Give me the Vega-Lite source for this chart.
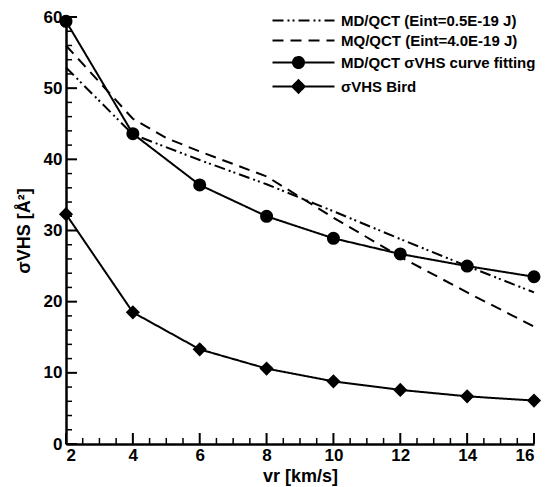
{
  "$schema": "https://vega.github.io/schema/vega-lite/v6.json",
  "autosize": "none",
  "width": 468,
  "height": 427,
  "padding": {"left": 66, "top": 17, "right": 12, "bottom": 43},
  "config": {"view": {"stroke": null}},
  "datasets": {
    "curves": [
      {"series": "MD/QCT (Eint=0.5E-19 J)", "vr": 2, "sigma": 52.9},
      {"series": "MD/QCT (Eint=0.5E-19 J)", "vr": 4, "sigma": 43.5},
      {"series": "MD/QCT (Eint=0.5E-19 J)", "vr": 6, "sigma": 39.9},
      {"series": "MD/QCT (Eint=0.5E-19 J)", "vr": 8, "sigma": 36.5},
      {"series": "MD/QCT (Eint=0.5E-19 J)", "vr": 10, "sigma": 32.7},
      {"series": "MD/QCT (Eint=0.5E-19 J)", "vr": 12, "sigma": 28.8},
      {"series": "MD/QCT (Eint=0.5E-19 J)", "vr": 14, "sigma": 25.0},
      {"series": "MD/QCT (Eint=0.5E-19 J)", "vr": 16, "sigma": 21.3},
      {"series": "MQ/QCT (Eint=4.0E-19 J)", "vr": 2, "sigma": 56.0},
      {"series": "MQ/QCT (Eint=4.0E-19 J)", "vr": 4, "sigma": 45.7},
      {"series": "MQ/QCT (Eint=4.0E-19 J)", "vr": 5, "sigma": 43.0},
      {"series": "MQ/QCT (Eint=4.0E-19 J)", "vr": 6, "sigma": 41.1},
      {"series": "MQ/QCT (Eint=4.0E-19 J)", "vr": 8, "sigma": 37.6},
      {"series": "MQ/QCT (Eint=4.0E-19 J)", "vr": 10, "sigma": 31.8},
      {"series": "MQ/QCT (Eint=4.0E-19 J)", "vr": 12, "sigma": 26.3},
      {"series": "MQ/QCT (Eint=4.0E-19 J)", "vr": 14, "sigma": 21.3},
      {"series": "MQ/QCT (Eint=4.0E-19 J)", "vr": 16, "sigma": 16.5},
      {"series": "MD/QCT σVHS curve fitting", "vr": 2, "sigma": 59.4},
      {"series": "MD/QCT σVHS curve fitting", "vr": 4, "sigma": 43.6},
      {"series": "MD/QCT σVHS curve fitting", "vr": 6, "sigma": 36.4},
      {"series": "MD/QCT σVHS curve fitting", "vr": 8, "sigma": 32.0},
      {"series": "MD/QCT σVHS curve fitting", "vr": 10, "sigma": 28.9},
      {"series": "MD/QCT σVHS curve fitting", "vr": 12, "sigma": 26.7},
      {"series": "MD/QCT σVHS curve fitting", "vr": 14, "sigma": 25.0},
      {"series": "MD/QCT σVHS curve fitting", "vr": 16, "sigma": 23.5},
      {"series": "σVHS Bird", "vr": 2, "sigma": 32.3},
      {"series": "σVHS Bird", "vr": 4, "sigma": 18.5},
      {"series": "σVHS Bird", "vr": 6, "sigma": 13.3},
      {"series": "σVHS Bird", "vr": 8, "sigma": 10.6},
      {"series": "σVHS Bird", "vr": 10, "sigma": 8.8},
      {"series": "σVHS Bird", "vr": 12, "sigma": 7.6},
      {"series": "σVHS Bird", "vr": 14, "sigma": 6.7},
      {"series": "σVHS Bird", "vr": 16, "sigma": 6.1}
    ],
    "xmajor": [{"v": 2}, {"v": 4}, {"v": 6}, {"v": 8}, {"v": 10}, {"v": 12}, {"v": 14}, {"v": 16}],
    "xminor": [{"v": 2.5}, {"v": 3}, {"v": 3.5}, {"v": 4.5}, {"v": 5}, {"v": 5.5}, {"v": 6.5}, {"v": 7}, {"v": 7.5}, {"v": 8.5}, {"v": 9}, {"v": 9.5}, {"v": 10.5}, {"v": 11}, {"v": 11.5}, {"v": 12.5}, {"v": 13}, {"v": 13.5}, {"v": 14.5}, {"v": 15}, {"v": 15.5}],
    "ymajor": [{"v": 0}, {"v": 10}, {"v": 20}, {"v": 30}, {"v": 40}, {"v": 50}, {"v": 60}],
    "yminor": [{"v": 2}, {"v": 4}, {"v": 6}, {"v": 8}, {"v": 12}, {"v": 14}, {"v": 16}, {"v": 18}, {"v": 22}, {"v": 24}, {"v": 26}, {"v": 28}, {"v": 32}, {"v": 34}, {"v": 36}, {"v": 38}, {"v": 42}, {"v": 44}, {"v": 46}, {"v": 48}, {"v": 52}, {"v": 54}, {"v": 56}, {"v": 58}]
  },
  "layer": [
    {
      "data": {"name": "curves"},
      "mark": {"type": "line", "color": "black", "strokeWidth": 2, "clip": false},
      "encoding": {
        "x": {"field": "vr", "type": "quantitative", "scale": {"domain": [2, 16], "nice": false, "zero": false},
          "axis": {"orient": "bottom", "values": [2, 4, 6, 8, 10, 12, 14, 16], "ticks": false, "grid": false, "domainColor": "black", "domainWidth": 2.5, "labelPadding": 3, "labelFont": "Liberation Sans", "labelFontWeight": "bold", "labelColor": "black", "labelFontSize": 17, "title": "vr [km/s]", "titleFont": "Liberation Sans", "titleFontWeight": "bold", "titleColor": "black", "titleFontSize": 18, "titlePadding": 4}},
        "y": {"field": "sigma", "type": "quantitative", "scale": {"domain": [0, 60], "nice": false},
          "axis": {"orient": "left", "values": [0, 10, 20, 30, 40, 50, 60], "ticks": false, "grid": false, "domainColor": "black", "domainWidth": 2.5, "labelPadding": 4, "labelFont": "Liberation Sans", "labelFontWeight": "bold", "labelColor": "black", "labelFontSize": 17, "title": "σVHS [Å²]", "titleFont": "Liberation Sans", "titleFontWeight": "bold", "titleColor": "black", "titleFontSize": 18, "titlePadding": 10}},
        "strokeDash": {"field": "series", "type": "nominal",
          "scale": {"domain": ["MD/QCT (Eint=0.5E-19 J)", "MQ/QCT (Eint=4.0E-19 J)", "MD/QCT σVHS curve fitting", "σVHS Bird"],
                    "range": [[11, 4, 2, 3, 2, 4], [11, 7], [1, 0], [1, 0]]},
          "legend": {
            "orient": "none", "legendX": 204, "legendY": -4, "title": null, "padding": 0,
            "symbolSize": 100, "symbolStrokeWidth": 2, "symbolStrokeColor": "black", "symbolFillColor": "black",
            "labelFontSize": 15, "labelFontWeight": "bold", "labelFont": "Liberation Sans", "labelColor": "black", "labelOffset": 56, "rowPadding": 4, "labelLimit": 300,
            "encode": {"symbols": {"update": {"shape": {"signal": "datum.value === 'MD/QCT σVHS curve fitting' ? 'M-1,0L11.4,0M3.1,0A1.1,1.1,0,1,0,5.3,0A1.1,1.1,0,1,0,3.1,0Z' : datum.value === 'σVHS Bird' ? 'M-1,0L11.4,0M4.2,-1.25L5.45,0L4.2,1.25L2.95,0Z' : 'M-1,0L11.4,0'"}, "fill": {"value": "black"}, "stroke": {"value": "black"}}}}
          }},
        "detail": {"field": "series"}
      }
    },
    {
      "data": {"name": "curves"},
      "transform": [{"filter": "datum.series === 'MD/QCT σVHS curve fitting' || datum.series === 'σVHS Bird'"}],
      "mark": {"type": "point", "filled": true, "color": "black", "opacity": 1, "clip": false},
      "encoding": {
        "x": {"field": "vr", "type": "quantitative"},
        "y": {"field": "sigma", "type": "quantitative"},
        "shape": {"field": "series", "type": "nominal", "scale": {"domain": ["MD/QCT σVHS curve fitting", "σVHS Bird"], "range": ["circle", "diamond"]}, "legend": null},
        "size": {"field": "series", "type": "nominal", "scale": {"domain": ["MD/QCT σVHS curve fitting", "σVHS Bird"], "range": [170, 200]}, "legend": null}
      }
    },
    {
      "data": {"name": "xmajor"},
      "mark": {"type": "rule", "color": "black", "strokeWidth": 2},
      "encoding": {"x": {"field": "v", "type": "quantitative"}, "y": {"datum": 0, "type": "quantitative"}, "y2": {"datum": 1.55}}
    },
    {
      "data": {"name": "xminor"},
      "mark": {"type": "rule", "color": "black", "strokeWidth": 1.5},
      "encoding": {"x": {"field": "v", "type": "quantitative"}, "y": {"datum": 0, "type": "quantitative"}, "y2": {"datum": 0.85}}
    },
    {
      "data": {"name": "ymajor"},
      "mark": {"type": "rule", "color": "black", "strokeWidth": 2},
      "encoding": {"y": {"field": "v", "type": "quantitative"}, "x": {"datum": 2, "type": "quantitative"}, "x2": {"datum": 2.33}}
    },
    {
      "data": {"name": "yminor"},
      "mark": {"type": "rule", "color": "black", "strokeWidth": 1.5},
      "encoding": {"y": {"field": "v", "type": "quantitative"}, "x": {"datum": 2, "type": "quantitative"}, "x2": {"datum": 2.18}}
    }
  ]
}
